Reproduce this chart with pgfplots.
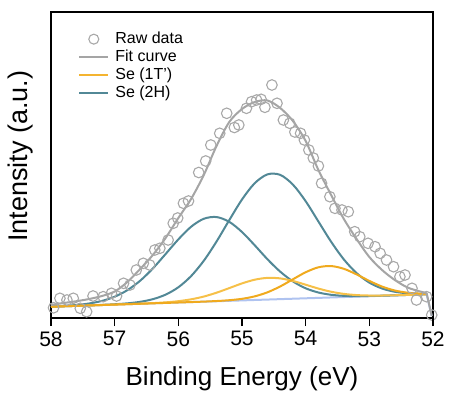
\documentclass[border=0pt]{standalone}
\usepackage{pgfplots}
\pgfplotsset{compat=1.18}
\usepackage{pgfplotstable}
\usepackage{fontspec}
\usetikzlibrary{calc}
\setmainfont{Liberation Sans}
\definecolor{rawc}{RGB}{168,168,168}
\definecolor{fitc}{RGB}{165,165,165}
\definecolor{tealc}{RGB}{82,136,150}
\definecolor{orA}{RGB}{240,170,30}
\definecolor{orB}{RGB}{246,192,72}
\definecolor{orL}{RGB}{244,180,48}
\definecolor{bgc}{RGB}{175,195,240}
\pgfplotstableread{
E bg h2big h2small t1small t1big
58.0 11.30 11.30 11.43 11.30 11.30
57.8 11.72 11.72 12.07 11.72 11.72
57.6 12.14 12.15 13.01 12.14 12.14
57.4 12.56 12.60 14.52 12.56 12.56
57.2 12.98 13.10 17.07 12.98 12.98
57.0 13.40 13.74 21.28 13.41 13.40
56.8 13.82 14.66 27.85 13.84 13.82
56.6 14.24 16.18 37.24 14.32 14.24
56.4 14.66 18.83 49.56 14.88 14.66
56.2 15.08 23.36 63.98 15.65 15.08
56.0 15.50 30.70 78.60 16.82 15.50
55.8 15.92 41.88 91.22 18.67 15.93
55.6 16.34 57.24 99.24 21.45 16.39
55.4 16.76 76.46 100.96 25.29 16.96
55.2 17.18 97.88 96.18 29.90 17.79
55.0 17.60 118.50 86.00 34.58 19.18
54.8 18.02 134.82 72.72 38.31 21.64
54.6 18.44 143.64 58.74 40.13 25.69
54.4 18.86 143.16 46.36 39.61 31.54
54.2 19.28 133.38 36.58 37.04 38.72
54.0 19.70 116.80 29.70 33.30 45.76
53.8 20.12 96.52 25.49 29.44 50.71
53.6 20.54 76.24 23.20 26.26 51.95
53.4 20.96 58.56 22.17 24.10 49.19
53.2 21.38 44.88 21.89 22.92 43.59
53.0 21.80 35.40 22.00 22.48 37.09
52.8 22.22 29.48 22.29 22.49 31.43
52.6 22.64 26.24 22.64 22.73 27.50
52.4 23.06 24.71 23.06 23.09 25.30
52.2 23.48 24.18 23.48 23.48 24.39
52.1 23.69 24.13 23.69 23.69 24.24
}\comp
\begin{document}
\begin{tikzpicture}
\begin{axis}[
  scale only axis, width=382bp, height=306bp,
  xmin=52, xmax=58, ymin=0, ymax=306, x dir=reverse,
  xtick={52,53,54,55,56,57,58}, ytick=\empty,
  xtick pos=left, tick align=outside, major tick length=8bp,
  axis line style={line width=1.8bp},
  tick style={black, line width=1.6bp},
  /pgf/number format/assume math mode=true,
  xticklabel style={font=\fontsize{21bp}{25bp}\selectfont, yshift=-2bp},
  xlabel={Binding Energy (eV)}, ylabel={Intensity (a.u.)},
  xlabel style={font=\fontsize{26bp}{30bp}\selectfont, at={(axis description cs:0.5,-0.222)}, anchor=base},
  ylabel style={font=\fontsize{27bp}{31bp}\selectfont, at={(axis description cs:-0.062,0.529)}, anchor=base},
  legend image code/.code={\draw[mark repeat=2,mark phase=2,#1] plot coordinates {(0bp,0bp) (14.5bp,0bp) (29bp,0bp)};},
  legend cell align=left,
  legend style={at={(axis description cs:0.0707,0.938)}, anchor=north west, draw=none, fill=none,
    font=\fontsize{16bp}{18bp}\selectfont, inner sep=0pt, row sep=2bp,
    nodes={inner sep=1bp, text height=11bp, text depth=3bp},
    /tikz/every odd column/.append style={column sep=5bp}},
]
\addlegendimage{only marks, mark=o, mark size=5bp, mark options={draw=rawc, line width=1.1bp}}
\addlegendentry{Raw data}
\addlegendimage{fitc, line width=2.2bp}
\addlegendentry{Fit curve}
\addlegendimage{orL, line width=2.2bp}
\addlegendentry{Se (1T')}
\addlegendimage{tealc, line width=2.2bp}
\addlegendentry{Se (2H)}

\addplot[bgc, line width=2bp, smooth, forget plot] table[x=E, y=bg] {\comp};
\addplot[tealc, line width=2bp, smooth, forget plot] table[x=E, y=h2small] {\comp};
\addplot[tealc, line width=2bp, smooth, forget plot] table[x=E, y=h2big] {\comp};
\addplot[orB, line width=2bp, smooth, forget plot] table[x=E, y=t1small] {\comp};
\addplot[orA, line width=2bp, smooth, forget plot] table[x=E, y=t1big] {\comp};
\addplot[bgc, line width=2bp, forget plot] coordinates {(52.1,23.69) (52.02,2)};

\addplot[only marks, mark=o, mark size=5.3bp, mark options={draw=rawc, line width=1.1bp}, forget plot] coordinates {
(57.96,10.2) (57.86,19.7) (57.75,18) (57.65,19.7) (57.54,9.7) (57.44,6.3) (57.34,22) (57.18,21.3)
(57.05,24.7) (56.97,22) (56.86,34.7) (56.76,33) (56.66,48) (56.55,54.7) (56.45,53) (56.37,68)
(56.29,69.7) (56.16,78) (56.08,94.7) (56.01,100) (55.92,114.7) (55.84,117) (55.68,145.5) (55.57,157)
(55.49,173) (55.35,184.7) (55.24,204.7) (55.12,190.5) (55.05,193) (54.93,209.7) (54.85,216.3) (54.77,218)
(54.70,218.7) (54.64,210.7) (54.53,233) (54.45,214.7) (54.35,198) (54.25,194.7) (54.17,186) (54.08,184.7)
(54.02,178) (53.95,168) (53.88,160) (53.80,152) (53.75,134.7) (53.62,121.3) (53.54,109.7) (53.43,108)
(53.33,106.3) (53.23,86.3) (53.15,81.3) (53.02,74.7) (52.91,71.3) (52.83,64.7) (52.73,58) (52.62,51.3)
(52.52,41.3) (52.44,43) (52.33,29.7) (52.26,18) (52.10,21.3) (52.02,3)
};

\addplot[fitc, line width=2bp, smooth, forget plot] coordinates {
(58.0,13) (57.8,15) (57.6,16.8) (57.4,19) (57.2,22) (57.0,26.5) (56.8,36) (56.6,49) (56.4,63)
(56.2,80) (56.0,100) (55.8,119) (55.6,143) (55.4,172) (55.2,196) (55.0,209) (54.8,216) (54.6,217.5)
(54.4,210) (54.2,197) (54.0,177) (53.8,148) (53.6,123) (53.4,99) (53.2,79) (53.0,61) (52.8,48)
(52.6,38) (52.4,30.5) (52.2,26.5) (52.1,25)
};
\addplot[fitc, line width=2bp, forget plot] coordinates {(52.1,25) (52.02,2)};
\end{axis}
\foreach \p in {0,1,2,3,4,5,6} {
  \draw[black, line width=1.6bp] ($(current axis.south west)!\p/6!(current axis.south east)$) -- ++(0,-8bp);
}
\path ([shift={(-51bp,-78bp)}]current axis.south west) rectangle ([shift={(17bp,12bp)}]current axis.north east);
\end{tikzpicture}
\end{document}
